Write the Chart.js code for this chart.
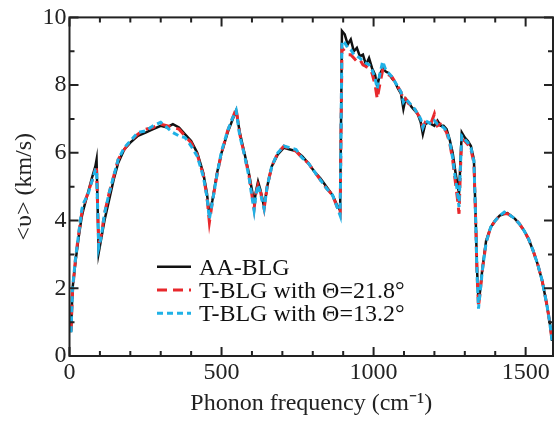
<!DOCTYPE html>
<html>
<head>
<meta charset="utf-8">
<script src="https://cdn.jsdelivr.net/npm/chart.js@4/dist/chart.umd.min.js"></script>
<style>
  html, body { margin: 0; padding: 0; background: #fff; }
  #wrap { width: 554px; height: 421px; }
</style>
</head>
<body>
<div id="wrap"><canvas id="velChart" width="554" height="421"></canvas></div>
<script>
// phonon frequency (cm^-1)
const freq = [
  5, 10, 20, 30, 40, 45, 60, 75, 85, 89,
  96, 105, 115, 130, 145, 160, 180, 200, 225, 250,
  275, 300, 320, 340, 360, 380, 400, 420, 440, 452,
  460, 470, 485, 500, 520, 535, 548, 560, 575, 590,
  600, 607, 613, 620, 628, 640, 650, 665, 685, 705,
  725, 745, 765, 785, 805, 825, 845, 865, 880, 890,
  896, 905, 915, 925, 935, 945, 955, 965, 975, 985,
  995, 1005, 1012, 1020, 1030, 1040, 1050, 1060, 1070, 1080,
  1090, 1098, 1105, 1115, 1125, 1135, 1145, 1155, 1162, 1170,
  1180, 1190, 1200, 1210, 1220, 1230, 1240, 1250, 1260, 1268,
  1275, 1281, 1286, 1290, 1300, 1310, 1320, 1330, 1336, 1340,
  1345, 1350, 1358, 1370, 1385, 1400, 1415, 1430, 1440, 1450,
  1465, 1480, 1495, 1510, 1525, 1540, 1555, 1570, 1580, 1587
];

// average group velocity (km/s)
const aaBLG = [
  0.7, 2.0, 2.8, 3.5, 4.1, 4.3, 4.8, 5.3, 5.6, 5.8,
  3.05, 3.5, 4.0, 4.6, 5.2, 5.7, 6.1, 6.3, 6.5, 6.6,
  6.7, 6.8, 6.75, 6.85, 6.75, 6.55, 6.35, 6.0, 5.4, 4.8,
  4.15, 4.6, 5.4, 6.0, 6.6, 6.95, 7.25, 6.6, 6.0, 5.4,
  4.9, 4.5, 4.85, 5.15, 4.9, 4.4, 5.0, 5.6, 5.95, 6.15,
  6.1, 6.05, 5.9, 5.7, 5.45, 5.25, 5.0, 4.75, 4.45, 4.3,
  9.6, 9.5, 9.2, 9.35, 9.0, 9.1, 8.85, 8.9, 8.6, 8.8,
  8.5, 8.3, 7.95, 8.3, 8.5, 8.4, 8.35, 8.2, 8.1, 7.9,
  7.75, 7.3, 7.6, 7.5, 7.35, 7.25, 7.15, 6.9, 6.55, 6.85,
  6.9, 6.85, 6.8, 6.95, 6.8, 6.8, 6.7, 6.4, 6.0, 5.5,
  5.1, 4.8, 5.8, 6.6, 6.45, 6.35, 6.2, 5.8, 4.0, 2.6,
  1.6, 1.9, 2.6, 3.4, 3.8, 4.0, 4.15, 4.2, 4.22, 4.15,
  4.05, 3.9, 3.7, 3.45, 3.1, 2.7, 2.2, 1.5, 0.95, 0.45
];

const tBLG218 = [
  0.75, 1.9, 2.9, 3.6, 4.2, 4.4, 4.8, 5.2, 5.5, 5.5,
  3.3, 3.6, 4.2, 4.8, 5.3, 5.8, 6.1, 6.35, 6.55, 6.7,
  6.75, 6.85, 6.8, 6.75, 6.7, 6.5, 6.3, 5.95, 5.35, 4.7,
  3.95, 4.55, 5.35, 6.0, 6.65, 7.0, 7.3, 6.55, 5.95, 5.35,
  4.75, 4.35, 4.8, 5.05, 4.85, 4.35, 5.0, 5.6, 6.0, 6.2,
  6.1, 6.05, 5.85, 5.7, 5.45, 5.2, 4.95, 4.75, 4.4, 4.2,
  9.1, 9.0, 8.9, 8.9, 8.8, 8.7, 8.75, 8.6, 8.55, 8.5,
  8.35, 8.0, 7.6, 8.0, 8.45, 8.35, 8.3, 8.25, 8.1, 7.95,
  7.8, 7.55, 7.6, 7.45, 7.4, 7.3, 7.15, 7.0, 6.75, 6.9,
  6.85, 6.9, 7.15, 6.8, 6.85, 6.75, 6.6, 6.3, 5.8, 5.2,
  4.7, 4.2, 5.6, 6.4, 6.35, 6.25, 6.1, 5.7, 3.9, 2.5,
  1.45, 1.85, 2.55, 3.35, 3.8, 4.0, 4.15, 4.2, 4.2, 4.15,
  4.05, 3.9, 3.7, 3.45, 3.1, 2.7, 2.2, 1.5, 0.95, 0.45
];

const tBLG132 = [
  0.7, 2.0, 2.9, 3.6, 4.3, 4.5, 4.75, 5.2, 5.5, 5.5,
  3.2, 3.55, 4.2, 4.8, 5.3, 5.8, 6.15, 6.35, 6.6, 6.65,
  6.8, 6.9, 6.75, 6.6, 6.5, 6.45, 6.2, 5.9, 5.3, 4.7,
  4.05, 4.55, 5.35, 6.05, 6.65, 7.0, 7.25, 6.5, 5.95, 5.3,
  4.7, 4.3, 4.75, 5.05, 4.8, 4.35, 5.0, 5.6, 6.0, 6.2,
  6.15, 6.1, 5.85, 5.7, 5.45, 5.2, 4.95, 4.75, 4.4, 4.15,
  9.3, 9.25, 9.1, 9.05, 8.9, 8.85, 8.8, 8.7, 8.65, 8.6,
  8.45, 8.2, 7.9, 8.3, 8.7, 8.45, 8.35, 8.25, 8.1, 7.95,
  7.8, 7.5, 7.6, 7.5, 7.4, 7.3, 7.15, 7.0, 6.75, 6.95,
  6.9, 6.85, 6.95, 6.85, 6.8, 6.75, 6.65, 6.35, 5.85, 5.3,
  4.9, 4.4, 5.7, 6.5, 6.4, 6.3, 6.15, 5.75, 3.9, 2.5,
  1.4, 1.85, 2.55, 3.35, 3.8, 4.0, 4.15, 4.25, 4.2, 4.15,
  4.05, 3.9, 3.7, 3.45, 3.1, 2.7, 2.2, 1.5, 0.95, 0.45
];

const seriesLabels = ['AA-BLG', 'T-BLG with \u0398=21.8\u00B0', 'T-BLG with \u0398=13.2\u00B0'];

const xTickLabels = [0, 500, 1000, 1500];
const xMinorTicks = [100, 200, 300, 400, 600, 700, 800, 900, 1100, 1200, 1300, 1400];
const yTickLabels = [0, 2, 4, 6, 8, 10];
const yMinorTicks = [1, 3, 5, 7, 9];

const serif = "'Liberation Serif', 'Times New Roman', serif";
const ink = '#222';

function toPoints(ys) {
  return freq.map((f, i) => ({ x: f, y: ys[i] }));
}

// frame with inward ticks on all four sides
const framePlugin = {
  id: 'frame',
  afterDatasetsDraw(chart) {
    const ctx = chart.ctx;
    const a = chart.chartArea;
    const xs = chart.scales.x, ys = chart.scales.y;
    ctx.save();
    ctx.strokeStyle = ink;
    ctx.lineWidth = 2;
    ctx.strokeRect(a.left, a.top, a.right - a.left, a.bottom - a.top);
    ctx.beginPath();
    function xt(v, len) {
      const px = xs.getPixelForValue(v);
      ctx.moveTo(px, a.bottom); ctx.lineTo(px, a.bottom - len);
      ctx.moveTo(px, a.top); ctx.lineTo(px, a.top + len);
    }
    function yt(v, len) {
      const py = ys.getPixelForValue(v);
      ctx.moveTo(a.left, py); ctx.lineTo(a.left + len, py);
      ctx.moveTo(a.right, py); ctx.lineTo(a.right - len, py);
    }
    xTickLabels.forEach(v => xt(v, 9));
    xMinorTicks.forEach(v => xt(v, 5));
    yTickLabels.forEach(v => yt(v, 9));
    yMinorTicks.forEach(v => yt(v, 5));
    ctx.stroke();
    ctx.restore();
  }
};

// legend drawn inside the plot
const legendPlugin = {
  id: 'insideLegend',
  afterDatasetsDraw(chart) {
    const ctx = chart.ctx;
    const rows = [266.7, 290, 313.3];
    ctx.save();
    chart.data.datasets.forEach((ds, i) => {
      const y = rows[i];
      ctx.beginPath();
      ctx.strokeStyle = ds.borderColor;
      ctx.lineWidth = ds.borderWidth;
      ctx.setLineDash(ds.borderDash || []);
      ctx.moveTo(157, y);
      ctx.lineTo(191, y);
      ctx.stroke();
      ctx.setLineDash([]);
      ctx.fillStyle = '#111';
      ctx.font = '24px ' + serif;
      ctx.textBaseline = 'alphabetic';
      ctx.fillText(ds.label, 199, y + 8);
    });
    ctx.restore();
  }
};

new Chart(document.getElementById('velChart'), {
  type: 'scatter',
  data: {
    datasets: [
      {
        label: seriesLabels[0],
        data: toPoints(aaBLG),
        showLine: true,
        borderColor: '#111',
        borderWidth: 2.5,
        pointRadius: 0,
        order: 3
      },
      {
        label: seriesLabels[1],
        data: toPoints(tBLG218),
        showLine: true,
        borderColor: '#e8282c',
        borderWidth: 3,
        borderDash: [10, 6],
        pointRadius: 0,
        order: 2
      },
      {
        label: seriesLabels[2],
        data: toPoints(tBLG132),
        showLine: true,
        borderColor: '#1fb1e6',
        borderWidth: 3,
        borderDash: [6, 4],
        pointRadius: 0,
        order: 1
      }
    ]
  },
  options: {
    responsive: false,
    animation: false,
    events: [],
    layout: { padding: { top: 16, right: 1, left: 0, bottom: 0 } },
    elements: { line: { tension: 0 } },
    plugins: {
      legend: { display: false },
      tooltip: { enabled: false }
    },
    scales: {
      x: {
        type: 'linear',
        min: 0,
        max: 1590,
        grid: { display: false, drawTicks: false },
        border: { display: false },
        afterBuildTicks: s => { s.ticks = xTickLabels.map(v => ({ value: v })); },
        afterFit: s => { s.height = 65; },
        ticks: {
          font: { family: serif, size: 24 },
          color: ink,
          padding: 2,
          maxRotation: 0,
          autoSkip: false,
          callback: v => String(v)
        },
        title: {
          display: true,
          text: 'Phonon frequency (cm\u207B\u00B9)',
          font: { family: serif, size: 24 },
          color: ink,
          padding: { top: 0, bottom: 3 }
        }
      },
      y: {
        type: 'linear',
        min: 0,
        max: 10,
        grid: { display: false, drawTicks: false },
        border: { display: false },
        afterBuildTicks: s => { s.ticks = yTickLabels.map(v => ({ value: v })); },
        afterFit: s => { s.width = 69.5; },
        ticks: {
          font: { family: serif, size: 24 },
          color: ink,
          padding: 3,
          callback: v => String(v)
        },
        title: {
          display: true,
          text: '<\u03C5> (km/s)',
          font: { family: serif, size: 24 },
          color: ink,
          padding: { top: 10, bottom: 0 }
        }
      }
    }
  },
  plugins: [framePlugin, legendPlugin]
});
</script>
</body>
</html>
